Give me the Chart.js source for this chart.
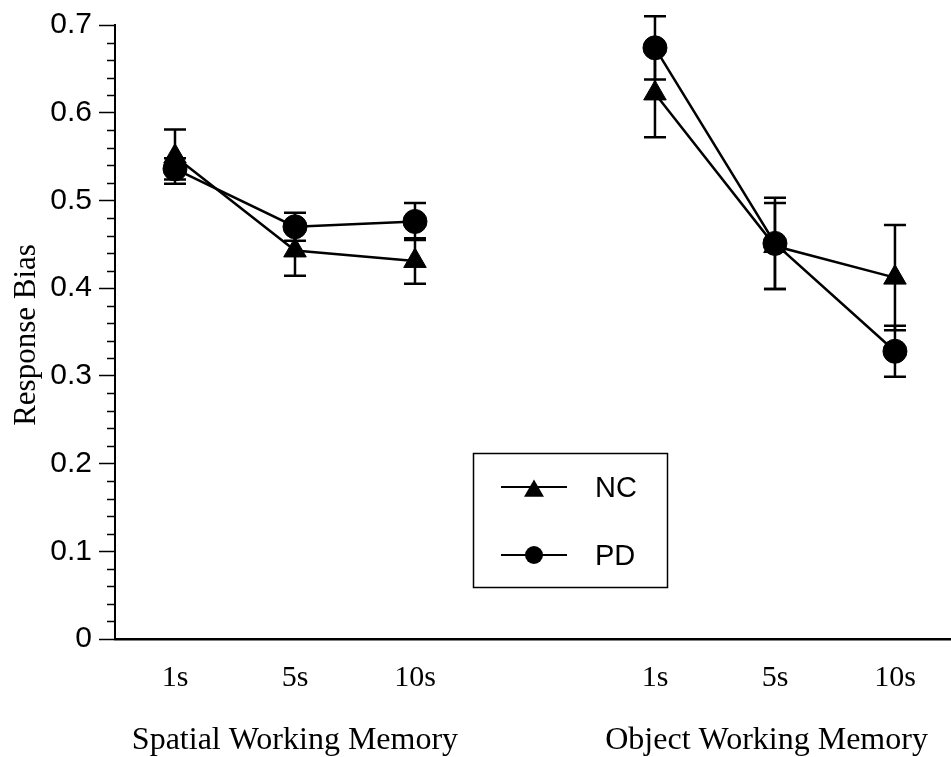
<!DOCTYPE html>
<html>
<head>
<meta charset="utf-8">
<script src="https://cdn.jsdelivr.net/npm/chart.js@4.4.1/dist/chart.umd.min.js"></script>
<style>
  html, body { margin: 0; padding: 0; background: #ffffff; }
  #wrap { width: 951px; height: 757px; position: relative; }
</style>
</head>
<body>
<div id="wrap"><canvas id="c" width="951" height="757"></canvas></div>
<script>
// ---- data ----
const categories = ['1s', '5s', '10s'];
const groups = ['Spatial Working Memory', 'Object Working Memory'];
const seriesNames = ['NC', 'PD'];

const ncSpatial    = [0.550, 0.443, 0.431];
const ncSpatialErr = [0.031, 0.029, 0.026];
const pdSpatial    = [0.536, 0.470, 0.476];
const pdSpatialErr = [0.012, 0.016, 0.021];

const ncObject     = [0.622, 0.448, 0.412];
const ncObjectErr  = [0.050, 0.049, 0.060];
const pdObject     = [0.674, 0.451, 0.328];
const pdObjectErr  = [0.036, 0.052, 0.029];

const yTickValues = [0, 0.1, 0.2, 0.3, 0.4, 0.5, 0.6, 0.7];
const yTickLabels = ['0', '0.1', '0.2', '0.3', '0.4', '0.5', '0.6', '0.7'];
const yAxisTitle = 'Response Bias';

// ---- layout helpers ----
const GROUP_STRIDE = 4;           // slot distance between groups (one empty slot)
function xPos(g, i) { return g * GROUP_STRIDE + i + 1; }
const groupLabelX = [2, 5.93];

const SANS = '"Liberation Sans", Arial, Helvetica, sans-serif';
const SERIF = '"Liberation Serif", "Times New Roman", Times, serif';

function pts(g, vals) { return vals.map((v, i) => ({ x: xPos(g, i), y: v })); }

const seriesStyle = {
  NC: { pointStyle: 'triangle', radius: 13 },
  PD: { pointStyle: 'circle', radius: 12 }
};

function mkDataset(name, g, vals, errs) {
  const st = seriesStyle[name];
  return {
    label: name,
    data: pts(g, vals),
    errors: errs,
    borderColor: '#000',
    backgroundColor: '#000',
    borderWidth: 2.5,
    tension: 0,
    pointStyle: st.pointStyle,
    pointRadius: st.radius,
    pointBorderWidth: 1,
    pointBackgroundColor: '#000',
    pointBorderColor: '#000',
    clip: false
  };
}

const datasets = [
  mkDataset('NC', 0, ncSpatial, ncSpatialErr),
  mkDataset('PD', 0, pdSpatial, pdSpatialErr),
  mkDataset('NC', 1, ncObject, ncObjectErr),
  mkDataset('PD', 1, pdObject, pdObjectErr)
];

const xTickValues = [];
const xTickLabels = {};
groups.forEach((gname, g) => categories.forEach((c, i) => {
  xTickValues.push(xPos(g, i));
  xTickLabels[xPos(g, i)] = c;
}));

// error bars (drawn beneath the markers)
const errorBarPlugin = {
  id: 'errorBars',
  beforeDatasetsDraw(chart) {
    const ctx = chart.ctx;
    const ys = chart.scales.y, xs = chart.scales.x;
    ctx.save();
    ctx.strokeStyle = '#000';
    ctx.lineWidth = 2.5;
    chart.data.datasets.forEach(ds => {
      ds.data.forEach((p, i) => {
        const e = ds.errors[i];
        const px = xs.getPixelForValue(p.x);
        const top = ys.getPixelForValue(p.y + e);
        const bot = ys.getPixelForValue(p.y - e);
        ctx.beginPath();
        ctx.moveTo(px, top); ctx.lineTo(px, bot);
        ctx.moveTo(px - 11, top); ctx.lineTo(px + 11, top);
        ctx.moveTo(px - 11, bot); ctx.lineTo(px + 11, bot);
        ctx.stroke();
      });
    });
    ctx.restore();
  }
};

// minor ticks, titles, group labels, legend box
const decorPlugin = {
  id: 'decor',
  afterDraw(chart) {
    const ctx = chart.ctx;
    const ys = chart.scales.y, xs = chart.scales.x;
    const area = chart.chartArea;
    ctx.save();
    // minor y ticks
    ctx.strokeStyle = '#000';
    ctx.lineWidth = 1.5;
    for (let k = 0; k < yTickValues.length - 1; k++) {
      const a = yTickValues[k], b = yTickValues[k + 1];
      for (let m = 1; m < 5; m++) {
        const py = Math.round(ys.getPixelForValue(a + (b - a) * m / 5)) + 0.5;
        ctx.beginPath();
        ctx.moveTo(area.left - 8, py);
        ctx.lineTo(area.left, py);
        ctx.stroke();
      }
    }
    // y-axis title
    ctx.fillStyle = '#000';
    ctx.font = '31px ' + SERIF;
    ctx.textAlign = 'center';
    ctx.textBaseline = 'alphabetic';
    ctx.save();
    ctx.translate(35, (area.top + area.bottom) / 2 + 3);
    ctx.rotate(-Math.PI / 2);
    ctx.fillText(yAxisTitle, 0, 0);
    ctx.restore();
    // group labels
    ctx.font = '32px ' + SERIF;
    groups.forEach((gname, g) => {
      ctx.fillText(gname, xs.getPixelForValue(groupLabelX[g]), 749);
    });
    // legend
    const lx = 473, ly = 453, lw = 194, lh = 134;
    ctx.lineWidth = 1.5;
    ctx.strokeRect(lx + 0.5, ly + 0.5, lw, lh);
    const rows = [ly + 34, ly + 102];
    seriesNames.forEach((name, r) => {
      const cy = rows[r];
      ctx.lineWidth = 2;
      ctx.beginPath();
      ctx.moveTo(lx + 28, cy); ctx.lineTo(lx + 94, cy);
      ctx.stroke();
      const mx = lx + 61;
      ctx.beginPath();
      if (seriesStyle[name].pointStyle === 'triangle') {
        const rr = 11.5, c = cy + 4;
        ctx.moveTo(mx, c - rr);
        ctx.lineTo(mx + rr * 0.866, c + rr / 2);
        ctx.lineTo(mx - rr * 0.866, c + rr / 2);
        ctx.closePath();
      } else {
        ctx.arc(mx, cy, 9, 0, Math.PI * 2);
      }
      ctx.fill();
      ctx.font = '29px ' + SANS;
      ctx.textAlign = 'left';
      ctx.textBaseline = 'middle';
      ctx.fillText(name, lx + 122, cy + 2);
    });
    ctx.restore();
  }
};

new Chart(document.getElementById('c'), {
  type: 'line',
  data: { datasets },
  plugins: [errorBarPlugin, decorPlugin],
  options: {
    responsive: false,
    animation: false,
    events: [],
    layout: { autoPadding: false, padding: { top: 23, right: 0, bottom: 0, left: 0 } },
    plugins: { legend: { display: false }, tooltip: { enabled: false }, title: { display: false } },
    scales: {
      x: {
        type: 'linear',
        min: 0.5,
        max: 7.467,
        afterFit(s) { s.height = 118; s.paddingLeft = 0; s.paddingRight = 0; },
        afterBuildTicks(s) { s.ticks = xTickValues.map(v => ({ value: v })); },
        grid: { display: false, drawTicks: false },
        border: { display: true, color: '#000', width: 2.5 },
        ticks: {
          autoSkip: false,
          maxRotation: 0,
          padding: 21,
          color: '#000',
          font: { family: SERIF, size: 30 },
          callback: v => xTickLabels[v] || ''
        }
      },
      y: {
        type: 'linear',
        min: 0,
        max: 0.7,
        afterFit(s) { s.width = 115; },
        afterBuildTicks(s) { s.ticks = yTickValues.map(v => ({ value: v })); },
        grid: { display: true, drawOnChartArea: false, drawTicks: true, tickLength: 16, tickWidth: 1.5, tickColor: '#000' },
        border: { display: true, color: '#000', width: 2 },
        ticks: {
          padding: 7,
          color: '#000',
          font: { family: SANS, size: 30 },
          callback: v => { const k = yTickValues.findIndex(t => Math.abs(t - v) < 1e-9); return k >= 0 ? yTickLabels[k] : ''; }
        }
      }
    }
  }
});
</script>
</body>
</html>
